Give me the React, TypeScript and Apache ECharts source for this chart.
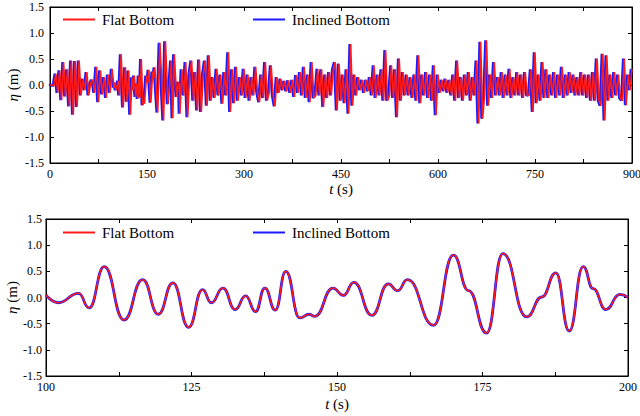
import React, { useEffect, useRef } from 'react';
import * as echarts from 'echarts';

// ---- Data ----
const FONT = "'Liberation Serif', 'Times New Roman', Times, serif";
const seriesNames = ['Flat Bottom', 'Inclined Bottom'];
const seriesColors = ['#ff1a1a', '#1a1aff'];

// Top panel: extremes read every 3 s, 0–99 s
const topStartA = 0;
const topStep = 3;
const topValuesA = [
  0, 0, -0.02, 0.22, -0.15, 0.28, -0.29, 0.44, -0.22, 0.3,
  -0.41, 0.47, -0.57, 0.46, -0.42, 0.47, -0.2, 0.12, -0.1, 0.25,
  -0.2, 0.05, 0.1, -0.15, 0.35, -0.33, 0.28, -0.18, 0.15, -0.25,
  0.2, -0.15, 0.31, -0.05,
];
// Top panel: 201–900 s, every 3 s
const topStartB = 201;
const topValuesB = [
  -0.55, 0.3, -0.2, 0.44, -0.62, 0.2, 0.47, -0.3, 0.25, -0.49,
  0.49, -0.52, 0.2, 0.47, -0.4, 0.57, -0.3, 0.15, -0.25, 0.31,
  -0.2, 0.2, -0.36, 0.25, -0.2, 0.63, -0.52, 0.3, -0.35, 0.35,
  -0.3, 0.15, -0.2, 0.31, -0.25, 0.2, -0.3, 0.15, -0.2, 0.35,
  -0.15, -0.33, 0.2, -0.25, 0.44, -0.3, -0.15, 0.38, -0.2, -0.41,
  0.15, -0.15, 0.12, -0.1, 0.08, -0.12, 0.09, -0.15, 0.1, -0.23,
  0.19, -0.15, 0.25, -0.2, 0.35, -0.25, 0.2, -0.33, 0.44, -0.25,
  -0.2, 0.31, -0.2, 0.3, -0.42, 0.2, -0.25, 0.25, -0.2, 0.3,
  0.44, -0.49, 0.41, -0.3, 0.2, -0.35, 0.3, -0.55, 0.79, -0.4,
  0.2, -0.2, 0.15, -0.1, 0.1, -0.15, 0.1, -0.12, 0.15, -0.2,
  0.38, -0.25, 0.2, -0.2, 0.3, -0.3, 0.67, -0.3, -0.2, 0.38,
  -0.25, 0.3, -0.62, 0.51, -0.3, 0.25, -0.2, 0.2, -0.2, 0.15,
  -0.25, 0.2, -0.3, 0.57, -0.35, 0.2, -0.2, 0.25, -0.25, 0.2,
  -0.3, 0.38, -0.58, 0.2, -0.15, 0.1, -0.12, 0.12, -0.15, 0.1,
  -0.2, 0.2, -0.3, 0.47, -0.25, 0.15, -0.3, 0.2, -0.2, 0.25,
  -0.3, 0.15, -0.2, 0.47, -0.74, 0.83, -0.65, -0.2, 0.86, -0.4,
  0.2, -0.25, 0.44, -0.2, 0.15, -0.2, 0.25, -0.25, 0.2, -0.2,
  0.31, -0.25, 0.15, -0.2, 0.25, -0.2, 0.2, -0.25, 0.25, -0.2,
  -0.2, 0.3, -0.52, 0.63, -0.35, 0.2, -0.3, 0.44, -0.25, 0.3,
  -0.25, 0.2, -0.2, 0.25, -0.25, 0.2, -0.2, 0.35, -0.25, 0.2,
  -0.2, 0.25, -0.15, 0.2, -0.2, 0.15, -0.2, 0.25, -0.2, 0.2,
  -0.25, 0.2, -0.3, 0.25, -0.3, 0.51, -0.3, -0.4, 0.6, -0.68,
  0.57, -0.3, 0.2, -0.25, 0.25, -0.2, 0.2, -0.25, -0.3, 0.51,
  -0.39, 0.2, -0.1, 0.31,
];
// In the top panel the inclined-bottom record leads the flat-bottom one slightly (s)
const topInclinedLead = 1.8;

// Bottom panel: crests, troughs and shoulders, 100–200 s
const bottomTimes = [
  100, 102.1, 105.6, 107.4, 110.0, 113.4, 116.6, 119.3, 121.8, 124.5,
  126.9, 128.4, 130.4, 132.5, 134.3, 136.0, 137.6, 139.4, 141.2, 143.6,
  145.2, 146.2, 149.3, 151.1, 152.9, 156.0, 158.8, 160.4, 162.1, 166.6,
  170.0, 172.6, 175.7, 178.5, 182.6, 185.2, 187.6, 189.9, 192.3, 194.0,
  196.2, 198.6, 200,
];
const bottomValues = [
  0.045, -0.1, 0.08, -0.2, 0.59, -0.43, 0.34, -0.32, 0.28, -0.57,
  0.15, -0.1, 0.18, -0.23, 0.03, -0.27, 0.18, -0.24, 0.5, -0.39,
  -0.32, -0.36, 0.18, 0.04, 0.29, -0.34, 0.26, 0.13, 0.34, -0.53,
  0.81, 0.13, -0.68, 0.84, -0.37, 0.01, 0.47, -0.64, 0.59, 0.17,
  -0.23, 0.06, 0,
];

const topXTicks = [0, 150, 300, 450, 600, 750, 900];
const bottomXTicks = [100, 125, 150, 175, 200];
const yTicks = [-1.5, -1.0, -0.5, 0.0, 0.5, 1.0, 1.5];

export default function App() {
  const ref = useRef<HTMLDivElement>(null);

  useEffect(() => {
    if (!ref.current) return;
    const chart = echarts.init(ref.current, undefined, { renderer: 'svg' });

    const bottomData = bottomTimes.map((t, i) => [t, bottomValues[i]]);
    const topData = [
      ...topValuesA.map((v, i) => [topStartA + i * topStep, v]),
      ...bottomData,
      ...topValuesB.map((v, i) => [topStartB + i * topStep, v]),
    ];
    const topDataInclined = topData.map(([t, v]) => [t - topInclinedLead, v]);

    const black = '#000';
    const txt = { color: black, fontFamily: FONT };

    const xAx = (grid: number, ticks: number[], withName: boolean, top: boolean) => ({
      type: 'value',
      gridIndex: grid,
      position: top ? 'top' : 'bottom',
      min: ticks[0],
      max: ticks[ticks.length - 1],
      interval: ticks[1] - ticks[0],
      axisLine: { show: true, onZero: false, lineStyle: { color: black, width: 1 } },
      axisTick: { show: true, inside: true, length: 4, lineStyle: { color: black } },
      minorTick: { show: true, splitNumber: 2, length: 4, lineStyle: { color: black } },
      splitLine: { show: false },
      axisLabel: top
        ? { show: false }
        : { show: true, ...txt, fontSize: 12, margin: 5 },
      name: withName ? '{it|t} (s)' : '',
      nameLocation: 'middle',
      nameGap: grid === 0 ? 18 : 20,
      nameMoveOverlap: false,
      nameTextStyle: {
        ...txt,
        fontSize: 15,
        rich: { it: { ...txt, fontSize: 15, fontStyle: 'italic' } },
      },
    });

    const yAx = (grid: number, right: boolean, labelMargin: number, nameGap: number) => ({
      type: 'value',
      gridIndex: grid,
      position: right ? 'right' : 'left',
      min: yTicks[0],
      max: yTicks[yTicks.length - 1],
      interval: yTicks[1] - yTicks[0],
      axisLine: { show: true, onZero: false, lineStyle: { color: black, width: 1 } },
      axisTick: { show: true, inside: true, length: 4, lineStyle: { color: black } },
      splitLine: { show: false },
      axisLabel: right
        ? { show: false }
        : {
            show: true,
            ...txt,
            fontSize: 12,
            margin: labelMargin,
            formatter: (v: number) => v.toFixed(1),
          },
      name: right ? '' : '{it|η} (m)',
      nameLocation: 'middle',
      nameRotate: 90,
      nameGap,
      nameMoveOverlap: false,
      nameTextStyle: {
        ...txt,
        fontSize: 15,
        rich: { it: { ...txt, fontSize: 15, fontStyle: 'italic' } },
      },
    });

    const legend = (name: string, left: number, top: number) => ({
      data: [name],
      left,
      top,
      padding: 0,
      icon: 'rect',
      itemWidth: 32,
      itemHeight: 2,
      itemGap: 0,
      selectedMode: false,
      textStyle: { ...txt, fontSize: 15, padding: [0, 0, 0, 2] },
    });

    const lineSeries = (
      name: string,
      color: string,
      width: number,
      axis: number,
      data: number[][],
      smooth: boolean,
      z: number,
    ) => ({
      type: 'line',
      name,
      xAxisIndex: axis,
      yAxisIndex: axis,
      data,
      symbol: 'none',
      clip: true,
      smooth: smooth ? 0.5 : false,
      smoothMonotone: smooth ? 'x' : undefined,
      lineStyle: { color, width },
      itemStyle: { color },
      z,
    });

    const gridBase = {
      show: true,
      borderColor: black,
      borderWidth: 1,
      backgroundColor: 'transparent',
      containLabel: false,
      outerBoundsMode: 'none',
    };

    chart.setOption({
      animation: false,
      backgroundColor: '#fff',
      grid: [
        { ...gridBase, left: 50, top: 7, width: 582, height: 156 },
        { ...gridBase, left: 46, top: 219, width: 582, height: 157 },
      ],
      legend: [
        legend(seriesNames[0], 63, 12),
        legend(seriesNames[1], 253, 12),
        legend(seriesNames[0], 63, 225),
        legend(seriesNames[1], 253, 225),
      ],
      xAxis: [
        xAx(0, topXTicks, true, false),
        xAx(0, topXTicks, false, true),
        xAx(1, bottomXTicks, true, false),
        xAx(1, bottomXTicks, false, true),
      ],
      yAxis: [
        yAx(0, false, 6, 30),
        yAx(0, true, 6, 30),
        yAx(1, false, 4, 27),
        yAx(1, true, 4, 27),
      ],
      series: [
        lineSeries(seriesNames[1], seriesColors[1], 2.3, 0, topDataInclined, false, 2),
        lineSeries(seriesNames[0], seriesColors[0], 1.6, 0, topData, false, 3),
        lineSeries(seriesNames[1], seriesColors[1], 2.8, 2, bottomData, true, 2),
        lineSeries(seriesNames[0], seriesColors[0], 1.5, 2, bottomData, true, 3),
      ],
    });

    return () => chart.dispose();
  }, []);

  return (
    <div
      ref={ref}
      style={{ position: 'fixed', left: 0, top: 0, width: 640, height: 416, background: '#fff' }}
    />
  );
}
